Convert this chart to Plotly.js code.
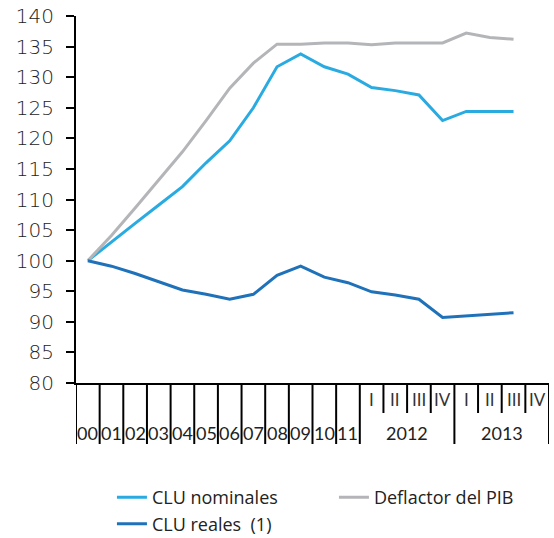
<!DOCTYPE html>
<html>
<head>
<meta charset="utf-8">
<script src="https://cdn.plot.ly/plotly-3.0.1.min.js"></script>
<style>html,body{margin:0;padding:0;background:#fff;}#chart{width:554px;height:538px;}</style>
</head>
<body>
<div id="chart"></div>
<script>
// Tick labels
var yearLabels = ['00','01','02','03','04','05','06','07','08','09','10','11'];
var quarterYears = ['2012','2013'];
var quarterLabels = ['I','II','III','IV'];

// Series (index 2000 = 100), annual 2000-2011 then quarterly 2012 I - 2013 III
var cluNominales = [100, 103.1, 106.1, 109.1, 112.1, 116.0, 119.6, 125.0, 131.7, 133.8, 131.7, 130.5,
                    128.3, 127.8, 127.1, 122.9, 124.4, 124.4, 124.4];
var deflactorPIB = [100, 104.1, 108.6, 113.2, 117.8, 122.9, 128.2, 132.3, 135.4, 135.4, 135.6, 135.6,
                    135.3, 135.6, 135.6, 135.6, 137.2, 136.5, 136.2];
var cluReales    = [100, 99.1, 97.9, 96.6, 95.2, 94.5, 93.7, 94.5, 97.6, 99.1, 97.3, 96.4,
                    94.9, 94.4, 93.7, 90.7, 91.0, 91.2, 91.5];

// Build category keys
var cats = yearLabels.slice();
quarterYears.forEach(function(y){ quarterLabels.forEach(function(q){ cats.push(y + ' ' + q); }); });
var xData = cats.slice(0, cluNominales.length);

var plotH = 538 - 16 - 155;
var shapes = [];
var annotations = [];
var nYears = yearLabels.length;
for (var b = 0; b <= cats.length; b++) {
  var isLong = b <= nYears || ((b - nYears) % quarterLabels.length === 0);
  shapes.push({type:'line', xref:'x', yref:'paper', x0:b-0.5, x1:b-0.5, y0:0,
               y1: -(isLong ? 61 : 30)/plotH, line:{color:'#000', width:2}});
}
var labFont = {family:'Lato', size:18, color:'#222'};
yearLabels.forEach(function(lab, i){
  annotations.push({x:i, y:-50/plotH, xref:'x', yref:'paper', text:lab, showarrow:false,
                    xanchor:'center', yanchor:'middle', font:labFont});
});
quarterYears.forEach(function(yr, k){
  var start = nYears + k*quarterLabels.length;
  annotations.push({x:start + (quarterLabels.length-1)/2, y:-50/plotH, xref:'x', yref:'paper', text:yr,
                    showarrow:false, xanchor:'center', yanchor:'middle', font:labFont});
  quarterLabels.forEach(function(q, j){
    annotations.push({x:start + j, y:-16/plotH, xref:'x', yref:'paper', text:q, showarrow:false,
                      xanchor:'center', yanchor:'middle', font:{family:'Lato', size:17, color:'#333'}});
  });
});

var traces = [
  {x:xData, y:cluNominales, name:'CLU nominales', type:'scatter', mode:'lines', line:{color:'#29ABE2', width:3}},
  {x:xData, y:deflactorPIB, name:'Deflactor del PIB', type:'scatter', mode:'lines', line:{color:'#B4B5B8', width:3}},
  {x:xData, y:cluReales, name:'CLU reales  (1)', type:'scatter', mode:'lines', line:{color:'#1F72BA', width:3}}
];

var layout = {
  width:554, height:538,
  margin:{l:76, r:5, t:16, b:155, autoexpand:false},
  paper_bgcolor:'#fff', plot_bgcolor:'#fff',
  showlegend:true,
  legend:{orientation:'h', x:0.076, xanchor:'left', y:-0.262, yanchor:'top',
          entrywidth:177, entrywidthmode:'pixels', tracegroupgap:0,
          font:{family:'Open Sans', size:18, color:'#222'}},
  xaxis:{type:'category', categoryorder:'array', categoryarray:cats, range:[-0.5, cats.length-0.5],
         showticklabels:false, ticks:'', showgrid:false, zeroline:false,
         showline:true, linecolor:'#000', linewidth:2, fixedrange:true},
  yaxis:{range:[80,140], dtick:5, tick0:80, ticks:'outside', ticklen:8, tickwidth:2, tickcolor:'#000',
         showline:true, linecolor:'#000', linewidth:2, showgrid:false, zeroline:false,
         ticklabelstandoff:8,
         tickfont:{family:'DejaVu Sans', size:20, color:'#222', weight:300}},
  shapes:shapes,
  annotations:annotations
};

Plotly.newPlot('chart', traces, layout, {displayModeBar:false, staticPlot:true});
</script>
</body>
</html>
